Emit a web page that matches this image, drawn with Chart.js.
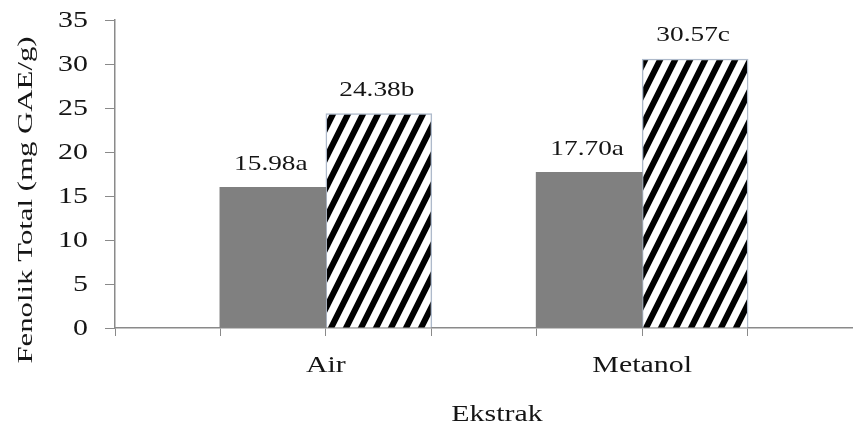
<!DOCTYPE html>
<html>
<head>
<meta charset="utf-8">
<script src="https://cdn.jsdelivr.net/npm/chart.js@4.4.1/dist/chart.umd.min.js"></script>
<style>
  html, body { margin: 0; padding: 0; background: #fff; }
  #wrap { width: 853px; height: 433px; }
</style>
</head>
<body>
<div id="wrap"><canvas id="chart" width="853" height="433"></canvas></div>
<script>
// data
const categories = ["Air", "Metanol"];
const solidValues = [15.98, 17.70];
const hatchValues = [24.38, 30.57];
const solidLabels = ["15.98a", "17.70a"];
const hatchLabels = ["24.38b", "30.57c"];
const yTicks = [0, 5, 10, 15, 20, 25, 30, 35];
const xTitle = "Ekstrak";
const yTitle = "Fenolik Total (mg GAE/g)";

const SERIF = "'Liberation Serif', 'Times New Roman', serif";
const AXIS = "#8a8a8a";
const INK = "#151515";
const STRETCH = 1.3; // the source picture is stretched sideways

// the x axis is split in equal slots; each category sits on a slot line
const slotCount = 8;
const slots = new Array(slotCount).fill("");
const catSlot = categories.map((c, i) => 2 + 3 * i);
catSlot.forEach((s, i) => slots[s] = categories[i]);

function spread(values) {
    const out = new Array(slotCount).fill(null);
    catSlot.forEach((s, i) => out[s] = values[i]);
    return out;
}

// black diagonal stripes on white
function makeHatch() {
    const c = document.createElement("canvas");
    c.width = 15; c.height = 30;
    const g = c.getContext("2d");
    g.fillStyle = "#fff";
    g.fillRect(0, 0, 15, 30);
    g.strokeStyle = "#000";
    g.lineWidth = 6;
    for (let k = -2; k <= 2; k++) {
        g.beginPath();
        g.moveTo(k * 15 - 5, 40);
        g.lineTo(k * 15 + 20, -10);
        g.stroke();
    }
    return g.createPattern(c, "repeat");
}

// text drawn wider than the font, like the source
function stretched(ctx, text, x, y, size, align, sx, rot) {
    ctx.save();
    ctx.translate(x, y);
    if (rot) ctx.rotate(rot);
    ctx.scale(sx, 1);
    ctx.font = size + "px " + SERIF;
    ctx.fillStyle = INK;
    ctx.textAlign = align;
    ctx.textBaseline = "middle";
    ctx.fillText(text, 0, 0);
    ctx.restore();
}

const textLayer = {
    id: "textLayer",
    afterDraw(chart) {
        const ctx = chart.ctx;
        const xs = chart.scales.x, ys = chart.scales.y;

        yTicks.forEach(v => stretched(ctx, String(v), 88, ys.getPixelForValue(v) + 1, 23, "right", STRETCH));
        catSlot.forEach((s, i) => stretched(ctx, categories[i], xs.getPixelForValue(s), 366, 23, "center", STRETCH));

        chart.data.datasets.forEach((ds, di) => {
            chart.getDatasetMeta(di).data.forEach((bar, i) => {
                if (ds.data[i] == null) return;
                const k = catSlot.indexOf(i);
                stretched(ctx, ds.texts[k], bar.x - 2, bar.y - 23, 21, "center", STRETCH);
            });
        });

        stretched(ctx, xTitle, 497, 415, 23, "center", STRETCH);
        stretched(ctx, yTitle, 26, 200, 22, "center", 1.4, -Math.PI / 2);
    }
};

new Chart(document.getElementById("chart"), {
    type: "bar",
    data: {
        labels: slots,
        datasets: [
            {
                data: spread(solidValues),
                texts: solidLabels,
                backgroundColor: "#808080",
                borderWidth: 0
            },
            {
                data: spread(hatchValues),
                texts: hatchLabels,
                backgroundColor: makeHatch(),
                borderColor: "#aebacb",
                borderWidth: 1.5
            }
        ]
    },
    options: {
        responsive: false,
        animation: false,
        layout: { padding: { top: 20, right: -6, left: 0, bottom: 0 } },
        plugins: { legend: { display: false }, tooltip: { enabled: false } },
        datasets: { bar: { barThickness: 106, grouped: true } },
        scales: {
            x: {
                offset: false,
                grid: { offset: false, drawOnChartArea: false, tickLength: 8, color: AXIS },
                border: { color: AXIS, width: 1.5 },
                ticks: { display: false },
                afterFit(scale) {
                    scale.height = 105;
                    scale.paddingLeft = 0;
                    scale.paddingRight = 0;
                }
            },
            y: {
                min: 0, max: 35,
                afterBuildTicks(scale) { scale.ticks = yTicks.map(v => ({ value: v })); },
                grid: { drawOnChartArea: false, tickLength: 10, color: AXIS },
                border: { color: AXIS, width: 1.5 },
                ticks: { display: false },
                afterFit(scale) { scale.width = 115; }
            }
        }
    },
    plugins: [textLayer]
});
</script>
</body>
</html>
